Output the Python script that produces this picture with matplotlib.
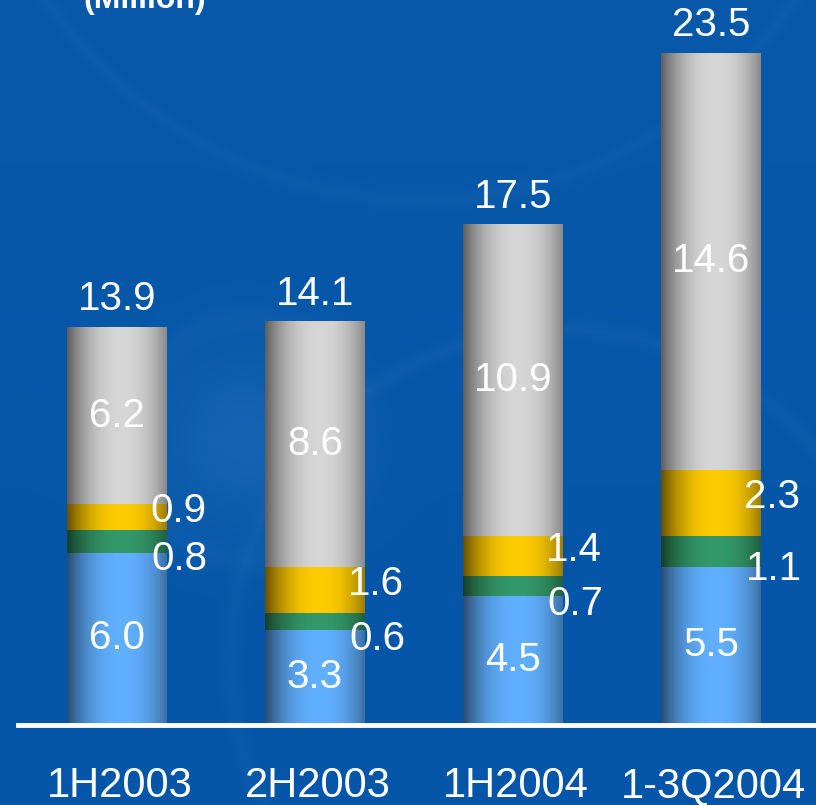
import numpy as np
import matplotlib
matplotlib.use("Agg")
import matplotlib.pyplot as plt
from matplotlib.colors import to_rgb

# data (million)
categories = ["1H2003", "2H2003", "1H2004", "1-3Q2004"]
blue_vals = [6.0, 3.3, 4.5, 5.5]
green_vals = [0.8, 0.6, 0.7, 1.1]
yellow_vals = [0.9, 1.6, 1.4, 2.3]
gray_vals = [6.2, 8.6, 10.9, 14.6]
totals = [13.9, 14.1, 17.5, 23.5]

# (edge colour, centre colour) for the cylinder shading
shades = [("#2a4c70", "#60b0ff"),
          ("#163f28", "#33996a"),
          ("#665000", "#ffcc00"),
          ("#5e5e5e", "#d6d6d6")]

W, H = 816, 805
fig = plt.figure(figsize=(W / 100, H / 100), dpi=100)
fig.patch.set_facecolor("#0556a8")

# background: flat blue with a soft glow and a couple of faint swirls
bg = fig.add_axes([0, 0, 1, 1], zorder=0)
yy, xx = np.mgrid[0:H, 0:W]
base = np.array(to_rgb("#0556a8"))
light = np.array(to_rgb("#3b80c8"))
glow = np.exp(-(((xx - 245) ** 2 + (yy - 440) ** 2) / (2 * 60.0 ** 2))) * 0.28
ring = np.exp(-((np.hypot(xx - 560, yy - 660) - 330) ** 2) / (2 * 6.0 ** 2)) * 0.10
ring += np.exp(-((np.hypot(xx - 250, yy - 440) - 120) ** 2) / (2 * 10.0 ** 2)) * 0.08
ring += np.exp(-((np.hypot(xx - 420, yy + 250) - 450) ** 2) / (2 * 5.0 ** 2)) * 0.08
vert = 0.06 * (1 - yy / H)
mix = np.clip(glow + ring + vert, 0, 1)[..., None]
img = base * (1 - mix) + light * mix
bg.imshow(img, extent=(0, W, H, 0), aspect="auto")
bg.set_xlim(0, W)
bg.set_ylim(H, 0)
bg.axis("off")

# main axes: baseline at y=724 px, 28.55 px per unit, bars 198 px apart
ax = fig.add_axes([0, 81 / H, 1, 724 / H], zorder=1)
ax.set_facecolor("none")
ax.axis("off")

x = np.arange(len(categories))
width = 0.505
series = [blue_vals, green_vals, yellow_vals, gray_vals]

t = np.linspace(0, 1, 200)
profile = np.clip(1 - np.abs(2 * (t - 0.55) / 1.1) ** 2.2, 0, 1)

bottom = np.zeros(len(categories))
seg_centres = []
for vals, (edge, centre) in zip(series, shades):
    bars = ax.bar(x, vals, width, bottom=bottom, color="none", linewidth=0)
    e, c = np.array(to_rgb(edge)), np.array(to_rgb(centre))
    grad = e[None, None, :] + (c - e)[None, None, :] * profile[None, :, None]
    for p in bars:
        x0, y0 = p.get_x(), p.get_y()
        im = ax.imshow(grad, extent=(x0, x0 + p.get_width(), y0, y0 + p.get_height()),
                       aspect="auto", zorder=2, interpolation="bilinear")
        im.set_clip_path(p)
    seg_centres.append(bottom + np.array(vals) / 2)
    bottom = bottom + np.array(vals)

ax.set_xlim(-117 / 198, (W - 117) / 198)
ax.set_ylim(0, 724 / 28.55)

val_font = dict(color="white", fontsize=29, family=["Liberation Sans", "DejaVu Sans"], zorder=5)

for i in range(len(categories)):
    # blue and gray labels inside the bar
    ax.text(x[i], seg_centres[0][i], f"{blue_vals[i]:.1f}", ha="center", va="center", **val_font)
    ax.text(x[i], seg_centres[3][i], f"{gray_vals[i]:.1f}", ha="center", va="center", **val_font)
    # green / yellow labels at the right edge
    ax.annotate(f"{yellow_vals[i]:.1f}", (x[i] + width / 2, seg_centres[2][i]),
                xytext=(8, 4), textcoords="offset points", ha="center", va="center", **val_font)
    ax.annotate(f"{green_vals[i]:.1f}", (x[i] + width / 2, seg_centres[1][i]),
                xytext=(9, -13), textcoords="offset points", ha="center", va="center", **val_font)
    # totals
    ax.annotate(f"{totals[i]:.1f}", (x[i], totals[i]), xytext=(0, 12),
                textcoords="offset points", ha="center", va="baseline", **val_font)

# baseline
fig.add_artist(plt.Line2D([18 / W, 1], [1 - 725 / H] * 2, color="white", lw=3.5, zorder=3))

# category labels
for i, cat in enumerate(categories):
    fig.text((117 + 198 * i + 3) / W, 1 - 786 / H, cat, ha="center", va="center",
             color="white", fontsize=30,
             family=["Liberation Sans Narrow", "Liberation Sans", "DejaVu Sans"])

# unit label, cut off at the top edge as in the original slide
fig.text(145 / W, 1 - 8 / H, "(Million)", ha="center", va="baseline", color="white",
         fontsize=23, fontweight="bold", family=["Liberation Sans", "DejaVu Sans"])

fig.savefig("out.png", dpi=100, facecolor=fig.get_facecolor())
